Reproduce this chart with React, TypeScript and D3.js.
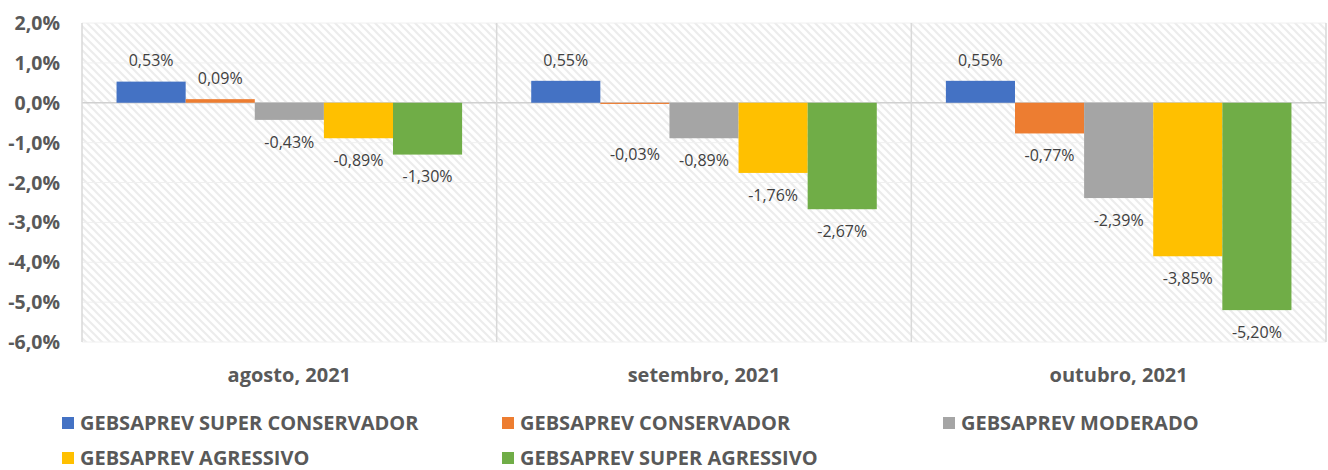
import React from "react";
import * as d3 from "d3";

const categories = ["agosto, 2021", "setembro, 2021", "outubro, 2021"];
const seriesNames = [
  "GEBSAPREV SUPER CONSERVADOR",
  "GEBSAPREV CONSERVADOR",
  "GEBSAPREV MODERADO",
  "GEBSAPREV AGRESSIVO",
  "GEBSAPREV SUPER AGRESSIVO",
];
const seriesColors = ["#4472C4", "#ED7D31", "#A5A5A5", "#FFC000", "#70AD47"];
const superConservador = [0.53, 0.55, 0.55];
const conservador = [0.09, -0.03, -0.77];
const moderado = [-0.43, -0.89, -2.39];
const agressivo = [-0.89, -1.76, -3.85];
const superAgressivo = [-1.3, -2.67, -5.2];
const seriesValues = [superConservador, conservador, moderado, agressivo, superAgressivo];
const yTicks = [2, 1, 0, -1, -2, -3, -4, -5, -6];

const W = 1328;
const H = 470;
const left = 82;
const right = 1326;
const top = 23;
const bottom = 342;

const fmt = (v: number, d: number) => v.toFixed(d).replace(".", ",") + "%";

export default function App() {
  const x0 = d3.scaleBand<string>().domain(categories).range([left, right]).paddingInner(0).paddingOuter(0);
  const x1 = d3
    .scaleBand<number>()
    .domain(d3.range(seriesNames.length))
    .range([0, x0.bandwidth()])
    .paddingOuter(0.5)
    .paddingInner(0);
  const y = d3.scaleLinear().domain([-6, 2]).range([bottom, top]);
  const font = "'Open Sans', sans-serif";

  const legendPos = [
    { x: 62, y: 423 },
    { x: 502, y: 423 },
    { x: 943, y: 423 },
    { x: 62, y: 458 },
    { x: 502, y: 458 },
  ];

  return (
    <svg width={W} height={H} style={{ position: "absolute", left: 0, top: 0, background: "#fff" }}>
      <defs>
        <pattern id="hatch" width="8" height="8" patternUnits="userSpaceOnUse">
          <rect width="8" height="8" fill="#ffffff" />
          <path d="M0,0 L8,8 M-2,6 L2,10 M6,-2 L10,2" stroke="#ececec" strokeWidth="2" />
        </pattern>
      </defs>
      <rect x={left} y={top} width={right - left} height={bottom - top} fill="url(#hatch)" />
      {yTicks.map((t) => (
        <line key={"g" + t} x1={left} x2={right} y1={y(t)} y2={y(t)} stroke={t === 0 ? "#d0d0d0" : "#f0f0f0"} strokeWidth={t === 0 ? 1.5 : 1} />
      ))}
      {[...categories.map((c) => x0(c) as number), right].map((xv, i) => (
        <line key={"v" + i} x1={xv} x2={xv} y1={top} y2={bottom} stroke="#d9d9d9" strokeWidth={1.5} />
      ))}
      {yTicks.map((t) => (
        <text key={"t" + t} x={60} y={y(t)} dy="0.36em" textAnchor="end" fontFamily={font} fontWeight={700} fontSize={19.5} fill="#595959">
          {fmt(t, 1)}
        </text>
      ))}
      {categories.map((c, ci) =>
        seriesValues.map((vals, si) => {
          const v = vals[ci];
          const bx = (x0(c) as number) + (x1(si) as number);
          const bw = x1.bandwidth();
          const y0 = y(0);
          const yv = y(v);
          const smallNeg = v < 0 && v > -0.1;
          const ly = v >= 0 ? yv - 21 : smallNeg ? yv + 50 : yv + 22;
          return (
            <g key={c + si}>
              <rect x={bx} y={Math.min(y0, yv)} width={bw} height={Math.max(Math.abs(yv - y0), 1)} fill={seriesColors[si]} />
              <text x={bx + bw / 2} y={ly} dy="0.36em" textAnchor="middle" fontFamily={font} fontSize={16} fill="#404040">
                {fmt(v, 2)}
              </text>
            </g>
          );
        })
      )}
      {categories.map((c) => (
        <text key={"c" + c} x={(x0(c) as number) + x0.bandwidth() / 2} y={375} dy="0.36em" textAnchor="middle" fontFamily={font} fontWeight={700} fontSize={20} fill="#595959">
          {c}
        </text>
      ))}
      {seriesNames.map((n, i) => (
        <g key={n}>
          <rect x={legendPos[i].x} y={legendPos[i].y - 6} width={12} height={12} fill={seriesColors[i]} />
          <text x={legendPos[i].x + 18} y={legendPos[i].y} dy="0.36em" fontFamily={font} fontWeight={700} fontSize={20} fill="#595959">
            {n}
          </text>
        </g>
      ))}
    </svg>
  );
}
